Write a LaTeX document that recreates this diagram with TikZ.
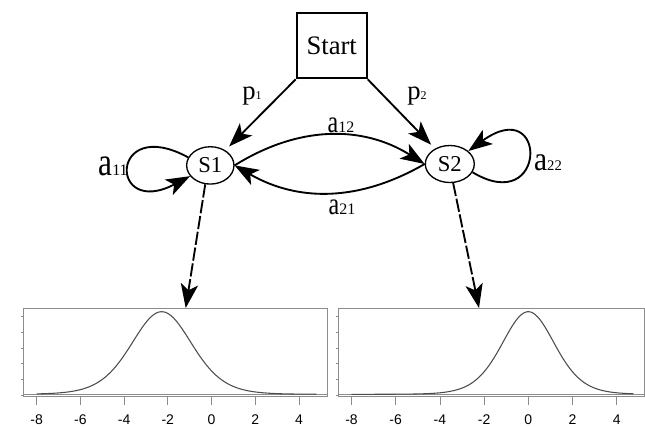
\documentclass[tikz,border=0pt]{standalone}
\usepackage{fontspec}
\setmainfont{Liberation Serif}
\newfontfamily\axisfont{Liberation Sans}
\usepackage{graphicx}
\usetikzlibrary{arrows.meta,shapes.geometric}
\definecolor{framegray}{HTML}{8C8C8C}
\definecolor{curvegray}{HTML}{4D4D4D}
\newcommand{\sublab}[5]{{\fontsize{#1}{#1}\selectfont\scalebox{1}[#2]{#3}}{\fontsize{#4}{#4}\selectfont #5}}
\begin{document}
\begin{tikzpicture}[x=0.75pt,y=-0.75pt,
  conn/.style={line width=1.4pt,-{Stealth[length=18pt,width=13pt,inset=4.5pt]}},
  dconn/.style={conn,dash pattern=on 10pt off 2pt},
  state/.style={ellipse,draw,line width=1pt,inner sep=0pt,font=\fontsize{17}{20}\selectfont},
  lbl/.style={inner sep=0pt},
  plotframe/.style={draw=framegray,line width=0.7pt},
  tickmark/.style={draw=framegray,line width=0.6pt},
  curve/.style={draw=curvegray,line width=0.8pt},
  axlbl/.style={inner sep=0pt,anchor=base,font=\axisfont\fontsize{10.5}{12}\selectfont}]
\useasboundingbox (0,0) rectangle (645,426);

% nodes
\node[draw,line width=1.5pt,minimum width=52.5pt,minimum height=48.75pt,
      font=\fontsize{20}{24}\selectfont] (start) at (331.7,45.8) {Start};
\node[state,minimum width=35.5pt,minimum height=28pt] (s1) at (210.3,165.4) {S1};
\node[state,minimum width=36.75pt,minimum height=27.75pt] (s2) at (449.8,164) {S2};

% connectors
\draw[conn,shorten >=4pt] (start.south west) -- (s1);
\draw[conn,shorten >=4pt] (start.south east) -- (s2);
\draw[conn] (s1.east) to[out=32,in=148] (s2.west);
\draw[conn] (s2.west) to[out=-150,in=-30] (s1.east);
\draw[conn] (s1.160) .. controls +(-79,-43) and +(-82,43) .. (s1.208);
\draw[conn] (s2.-20) .. controls +(75,45) and +(80,-58) .. (s2.35);

\coordinate (t1) at (185.7,308);
\coordinate (t2) at (479,308);
\draw[dconn] (s1.-105) -- (t1);
\draw[dconn] (s2.-80) -- (t2);

% labels
\node[lbl] (p1) at (252,96.5) {\sublab{20}{1}{p}{9}{1}};
\node[lbl] (p2) at (417,96.5) {\sublab{20}{1}{p}{9}{2}};
\node[lbl] (a12) at (341,125) {\sublab{18}{1.3}{a}{12}{12}};
\node[lbl] (a21) at (342,207.5) {\sublab{18}{1.3}{a}{12}{21}};
\node[lbl] (a11) at (113,166) {\sublab{23.5}{1.27}{a}{12}{11}};
\node[lbl] (a22) at (548,162.5) {\sublab{22}{1.15}{a}{11}{22}};

% left plot
\draw[plotframe] (23,308) rectangle (327.7,396.7);
\draw[plotframe] (23,394.3) -- (327.7,394.3);
\foreach \yy in {316.5,332.2,347.9,363.6,379.3,395}
  \draw[tickmark] (23,\yy) -- (20.5,\yy);
\foreach \u in {-8,-6,...,4}{
  \draw[tickmark] ({36.7+(\u+8)*21.85},396.7) -- ++(0,8);
  \node[axlbl] at ({36.7+(\u+8)*21.85},424) {\u};
}
\draw[curve] plot[domain=-8:4.8,samples=160,smooth]
  ({36.7+(\x+8)*21.85},{394.3-82.6*exp(-5.5*ln(1+(\x+2.28)*(\x+2.28)/20.2))});

% right plot
\draw[plotframe] (338,308) rectangle (644,396.7);
\draw[plotframe] (338,394.3) -- (644,394.3);
\foreach \yy in {316.5,332.2,347.9,363.6,379.3,395}
  \draw[tickmark] (338,\yy) -- (335.5,\yy);
\foreach \u in {-8,-6,...,4}{
  \draw[tickmark] ({528.3+\u*22.1},396.7) -- ++(0,8);
  \node[axlbl] at ({528.3+\u*22.1},424) {\u};
}
\draw[curve] plot[domain=-8:4.75,samples=160,smooth]
  ({528.3+\x*22.1},{394.3-82.6*exp(-5.5*ln(1+\x*\x/15))});
\end{tikzpicture}
\end{document}
